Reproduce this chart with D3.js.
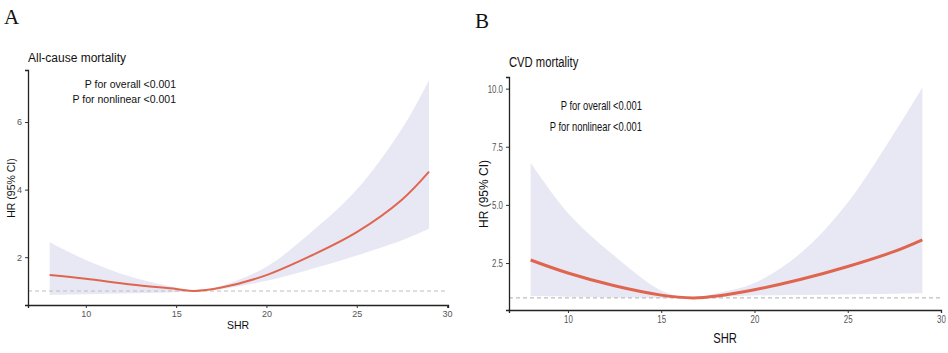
<!DOCTYPE html>
<html>
<head>
<meta charset="utf-8">
<script src="https://cdn.jsdelivr.net/npm/d3@7"></script>
<style>
    body { margin: 0; background: #fff; }
    svg { display: block; font-family: "Liberation Sans", Arial, sans-serif; }
</style>
</head>
<body>
<svg width="948" height="353"></svg>
<script>
// Panel A - all-cause mortality
const shrA = [8, 10, 12.5, 15, 16, 17.5, 20, 22.5, 25, 27.5, 29];
const hrA = [1.47, 1.36, 1.19, 1.06, 1.0, 1.1, 1.47, 2.05, 2.74, 3.7, 4.53];
const lowerA = [0.88, 0.9, 0.93, 0.96, 1.0, 1.05, 1.3, 1.65, 2.05, 2.5, 2.84];
const upperA = [2.44, 1.92, 1.42, 1.1, 1.0, 1.15, 1.72, 2.75, 4.0, 5.8, 7.24];
const yTicksA = [2, 4, 6];

// Panel B - CVD mortality
const shrB = [8, 10, 12.5, 15, 16.7, 18, 20, 22.5, 25, 27.5, 29];
const hrB = [2.63, 2.07, 1.52, 1.12, 1.0, 1.08, 1.35, 1.8, 2.35, 3.0, 3.5];
const lowerB = [1.08, 1.05, 1.02, 1.0, 0.98, 1.03, 1.1, 1.13, 1.15, 1.18, 1.2];
const upperB = [6.81, 4.65, 2.8, 1.32, 1.0, 1.2, 1.64, 2.94, 5.1, 8.1, 10.05];
const yTicksB = [2.5, 5.0, 7.5, 10.0];

const xTicks = [10, 15, 20, 25, 30];
const pText = ["P for overall <0.001", "P for nonlinear <0.001"];

const svg = d3.select("svg");
const bandColor = "#e8e8f4";
const lineColor = "#e0654f";
const curve = d3.curveCatmullRom.alpha(0.5);

function drawPanel(p) {
    const g = svg.append("g");
    const x = d3.scaleLinear().domain(p.xDomain).range([p.left, p.right]);
    const y = d3.scaleLinear().domain(p.yDomain).range([p.bottom, p.top]);
    const rows = p.shr.map((s, i) => ({ s: s, hr: p.hr[i], lo: p.lower[i], up: p.upper[i] }));

    // confidence band
    g.append("path")
        .datum(rows)
        .attr("d", d3.area().curve(curve)
            .x(d => x(d.s)).y0(d => y(d.lo)).y1(d => y(d.up)))
        .attr("fill", bandColor);

    // reference line at HR = 1
    g.append("line")
        .attr("x1", p.left).attr("x2", p.right)
        .attr("y1", y(1)).attr("y2", y(1))
        .attr("stroke", "#bdbdbd")
        .attr("stroke-width", 1.2)
        .attr("stroke-dasharray", "4,3");

    g.append("path")
        .datum(rows)
        .attr("d", d3.line().curve(curve).x(d => x(d.s)).y(d => y(d.hr)))
        .attr("fill", "none")
        .attr("stroke", lineColor)
        .attr("stroke-width", p.lineWidth);

    // axes
    const xAxis = g.append("g")
        .attr("transform", `translate(0,${p.bottom})`)
        .call(d3.axisBottom(x).tickValues(xTicks).tickSize(3).tickFormat(d3.format("d")));
    const yAxis = g.append("g")
        .attr("transform", `translate(${p.left},0)`)
        .call(d3.axisLeft(y).tickValues(p.yTicks).tickSize(3).tickFormat(p.yFormat));
    [xAxis, yAxis].forEach(a => {
        a.select(".domain").attr("stroke", "#222").attr("stroke-width", 1.3);
        a.selectAll(".tick line").attr("stroke", "#333");
        a.selectAll(".tick text")
            .attr("fill", "#555")
            .attr("font-size", p.tickSize)
            .attr("font-family", "Liberation Sans, Arial, sans-serif");
    });
    if (p.squeeze) {
        xAxis.selectAll(".tick text").attr("transform", `scale(${p.squeeze},1)`);
        yAxis.selectAll(".tick text").each(function () {
            const t = d3.select(this);
            const tx = +t.attr("x");
            t.attr("transform", `translate(${tx},0) scale(${p.squeeze},1) translate(${-tx},0)`);
        });
    }

    // texts
    const squeeze = p.squeeze || 1;
    g.append("text")
        .attr("transform", `translate(${p.left},${p.titleY}) scale(${squeeze},1)`)
        .attr("font-size", p.titleSize)
        .attr("fill", "#111")
        .text(p.title);

    pText.forEach((t, i) => {
        g.append("text")
            .attr("transform", `translate(${p.pX},${p.pY + i * p.pGap}) scale(${squeeze},1)`)
            .attr("text-anchor", "end")
            .attr("font-size", p.pSize)
            .attr("fill", "#111")
            .text(t);
    });

    g.append("text")
        .attr("transform", `translate(${(p.left + p.right) / 2},${p.xLabelY}) scale(${squeeze},1)`)
        .attr("text-anchor", "middle")
        .attr("font-size", p.labelSize)
        .attr("fill", "#111")
        .text("SHR");

    g.append("text")
        .attr("transform", `translate(${p.yLabelX},${p.yLabelY}) rotate(-90)`)
        .attr("text-anchor", "middle")
        .attr("font-size", p.yLabelSize)
        .attr("fill", "#111")
        .text("HR (95% CI)");

    svg.append("text")
        .attr("x", p.letterX)
        .attr("y", p.letterY)
        .attr("font-family", "Liberation Serif, Times New Roman, serif")
        .attr("font-size", 21)
        .attr("fill", "#111")
        .text(p.letter);
}

drawPanel({
    shr: shrA, hr: hrA, lower: lowerA, upper: upperA, yTicks: yTicksA,
    yFormat: d3.format("d"),
    xDomain: [6.8, 30.05], yDomain: [0.585, 7.54],
    left: 28, right: 448, top: 70, bottom: 305,
    lineWidth: 2, tickSize: 9,
    title: "All-cause mortality", titleY: 62, titleSize: 12,
    pX: 176, pY: 88, pGap: 15, pSize: 10.5,
    xLabelY: 329, labelSize: 10.5,
    yLabelX: 15, yLabelY: 188, yLabelSize: 10.5,
    letter: "A", letterX: 4, letterY: 24
});

drawPanel({
    shr: shrB, hr: hrB, lower: lowerB, upper: upperB, yTicks: yTicksB,
    yFormat: d3.format(".1f"),
    xDomain: [6.84, 30], yDomain: [0.48, 10.5],
    left: 509, right: 941, top: 77, bottom: 310,
    lineWidth: 3, tickSize: 10.5, squeeze: 0.75,
    title: "CVD mortality", titleY: 67, titleSize: 15,
    pX: 642, pY: 110, pGap: 21, pSize: 12.5,
    xLabelY: 343, labelSize: 15,
    yLabelX: 488, yLabelY: 194, yLabelSize: 12,
    letter: "B", letterX: 475, letterY: 28
});
</script>
</body>
</html>
